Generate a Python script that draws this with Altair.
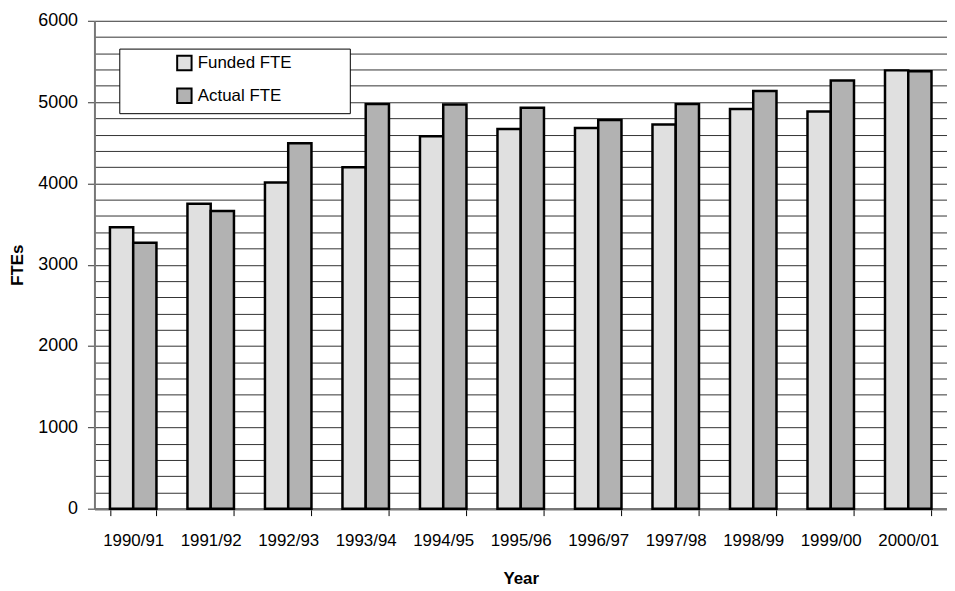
import altair as alt
import pandas as pd

years = ["1990/91", "1991/92", "1992/93", "1993/94", "1994/95", "1995/96",
         "1996/97", "1997/98", "1998/99", "1999/00", "2000/01"]
funded = [3460, 3750, 4010, 4200, 4580, 4670, 4680, 4725, 4915, 4885, 5390]
actual = [3270, 3660, 4495, 4975, 4970, 4930, 4780, 4975, 5135, 5265, 5380]
series = ["Funded FTE", "Actual FTE"]
colors = ["#e0e0e0", "#b2b2b2"]

rows = []
for i, y in enumerate(years):
    rows.append({"Year": y, "Series": series[0], "FTEs": funded[i]})
    rows.append({"Year": y, "Series": series[1], "FTEs": actual[i]})
df = pd.DataFrame(rows)

FONT = "Liberation Sans"
PAD = "\u00a0" * 11 + "\u200b"

chart = alt.Chart(df).mark_bar(stroke="black", strokeWidth=2.5).encode(
    x=alt.X("Year:N", sort=years, title="Year",
            scale=alt.Scale(paddingInner=0.4, paddingOuter=0.2),
            axis=alt.Axis(labelAngle=0, tickBand="extent", tickSize=7,
                          tickColor="black", domainColor="#777", domainWidth=2.5,
                          labelFontSize=17, labelPadding=17, titleFontSize=17,
                          titleFontWeight="bold", titlePadding=22, grid=False)),
    xOffset=alt.XOffset("Series:N", sort=series, scale=alt.Scale(paddingInner=0)),
    y=alt.Y("FTEs:Q", title="FTEs",
            scale=alt.Scale(domain=[0, 6000], nice=False),
            axis=alt.Axis(values=list(range(0, 6001, 200)), format="d",
                          labelExpr="datum.value % 1000 === 0 ? datum.label : ''",
                          labelOverlap=False, labelFlush=False,
                          tickOpacity={"condition": {"test": "datum.value % 1000 === 0", "value": 1}, "value": 0},
                          tickSize=7, tickColor="#333", labelPadding=10,
                          domainColor="#777", domainWidth=2,
                          gridColor="#333", gridWidth=1, gridOpacity=1,
                          labelFontSize=18, titleFontSize=17, titleFontWeight="bold",
                          titlePadding=11)),
    color=alt.Color("Series:N", sort=series,
                    scale=alt.Scale(domain=series, range=colors),
                    legend=alt.Legend(title=None, orient="none", legendX=25, legendY=28,
                                      direction="vertical",
                                      strokeColor="black", fillColor="white",
                                      padding=6, symbolType="square", symbolSize=210,
                                      symbolStrokeColor="black", symbolStrokeWidth=2,
                                      symbolOffset=51, labelOffset=5,
                                      labelFontSize=17, rowPadding=10, labelLimit=400,
                                      labelExpr="datum.label + '" + PAD + "'")),
).properties(
    width=858, height=491,
    autosize=alt.AutoSizeParams(type="none"),
    padding={"left": 87, "top": 11, "right": 0, "bottom": 80},
).configure(font=FONT).configure_view(stroke=None).configure_axis(
    labelFont=FONT, titleFont=FONT, labelColor="black", titleColor="black"
).configure_legend(labelFont=FONT, labelColor="black")

chart.save("out.html", embed_options={"renderer": "svg", "actions": False})
